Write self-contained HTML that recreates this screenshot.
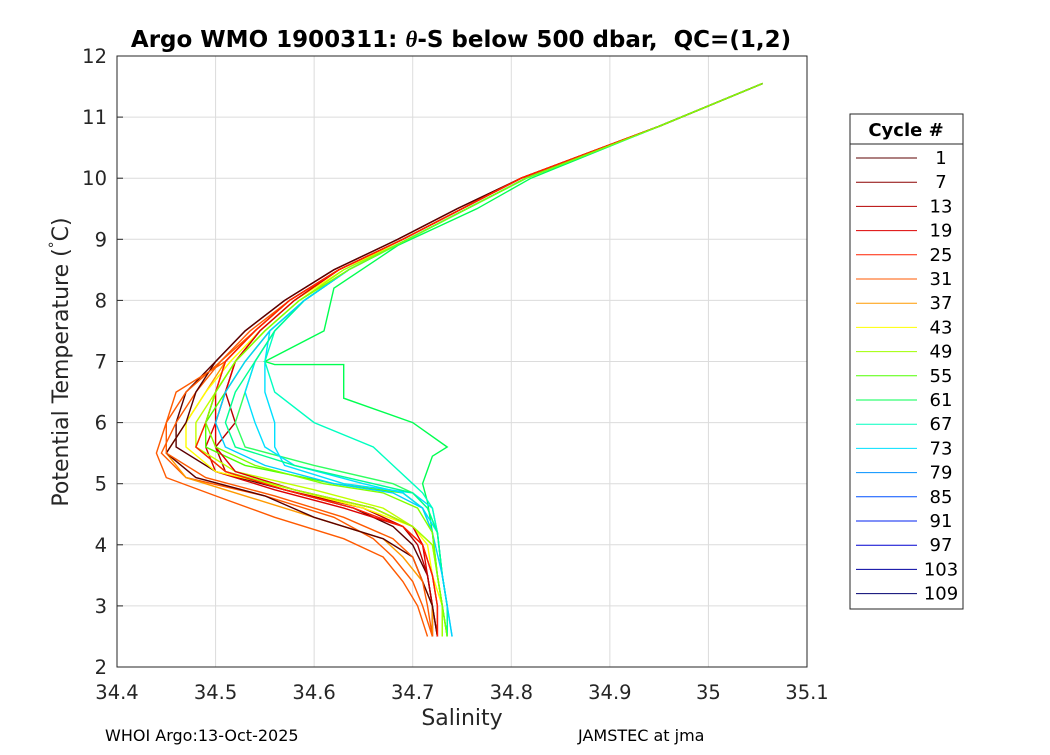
<!DOCTYPE html>
<html><head><meta charset="utf-8"><style>
body{margin:0;background:#fff;width:1050px;height:750px;overflow:hidden;font-family:"Liberation Sans","DejaVu Sans",sans-serif}
</style></head><body>
<svg id="chart" width="1050" height="750" xmlns="http://www.w3.org/2000/svg" font-family="DejaVu Sans, Liberation Sans, sans-serif">
<rect width="1050" height="750" fill="#fff"/>
<g id="grid"></g>
<g id="profiles"></g>
<rect x="117" y="56" width="690" height="611" fill="none" stroke="#262626" stroke-width="1"/>
<g id="ticks"></g>
<text x="461" y="47" text-anchor="middle" font-size="23" font-weight="bold" fill="#000">Argo WMO 1900311: <tspan font-style="italic" font-family="Liberation Serif, serif">θ</tspan>-S below 500 dbar,&#160; QC=(1,2)</text>
<text x="462" y="725" text-anchor="middle" font-size="22" fill="#262626">Salinity</text>
<text transform="translate(68,362) rotate(-90)" text-anchor="middle" font-size="22" fill="#262626">Potential Temperature (<tspan dy="-9" font-size="14">°</tspan><tspan dy="9">C)</tspan></text>
<text x="105" y="741" font-size="16" fill="#000">WHOI Argo:13-Oct-2025</text>
<text x="578" y="741" font-size="16" fill="#000">JAMSTEC at jma</text>
<g id="legend">
<rect x="850" y="114" width="113" height="495" fill="#fff" stroke="#262626"/>
<text x="906" y="136" text-anchor="middle" font-size="18" font-weight="bold">Cycle #</text>
<line x1="850" y1="144" x2="963" y2="144" stroke="#262626"/>
</g>
</svg>
<script>
const xTicks=[34.4,34.5,34.6,34.7,34.8,34.9,35,35.1];
const xTickLabels=["34.4","34.5","34.6","34.7","34.8","34.9","35","35.1"];
const yTicks=[2,3,4,5,6,7,8,9,10,11,12];
const legendCycles=[1,7,13,19,25,31,37,43,49,55,61,67,73,79,85,91,97,103,109];
const legendColors=["#5c0000","#8b0000","#b50000","#dd0000","#ff2000","#ff5a00","#ff9a00","#ffff00","#a0ff00","#50ff00","#00ff50","#00ffc0","#00e0ff","#0090ff","#0050ff","#0020f0","#0000d0","#0000a0","#000070"];
const stdT=[11.55,10.85,10.0,9.5,9.0,8.5,8.0,7.5,7.0,6.5,6.0,5.6,5.2,4.9,4.6,4.3,4.0,3.5,3.0,2.5];
const lowT=[11.55,10.85,10.0,9.5,9.0,8.5,8.0,7.5,7.0,6.5,6.0,5.5,5.1,4.8,4.45,4.1,3.8,3.4,3.0,2.5];
const highT=[11.55,10.85,10.0,9.5,9.0,8.5,8.0,7.5,7.0,6.5,6.0,5.6,5.3,5.0,4.85,4.6,4.2,3.5,3.0,2.5];
const outT=[11.55,10.85,10.0,9.5,8.9,8.2,7.5,7.0,6.95,6.95,6.4,6.0,5.6,5.45,5.0,4.7,4.2,3.5,3.0,2.5];
const profileColors=["#5c0000","#dd0000","#b50000","#ff5a00","#ff5a00","#ff9a00","#ffff00","#c0ff00","#50ff00","#00ff50","#30ff60","#00e0ff","#00e0ff","#00ffc0","#5c0000","#dd0000","#a0ff00","#ff5a00","#00ff90","#00d0ff","#ff2000","#80ff00"];
const profileTemp=[stdT,stdT,stdT,lowT,lowT,lowT,stdT,stdT,highT,outT,highT,highT,highT,highT,lowT,stdT,stdT,lowT,highT,highT,stdT,highT];
const profileSal=[
[35.055,34.95,34.81,34.745,34.685,34.62,34.57,34.53,34.5,34.47,34.46,34.46,34.5,34.57,34.64,34.68,34.7,34.715,34.72,34.725],
[35.055,34.95,34.81,34.75,34.69,34.625,34.575,34.54,34.51,34.5,34.5,34.49,34.5,34.56,34.63,34.69,34.71,34.715,34.72,34.72],
[35.055,34.95,34.81,34.75,34.69,34.625,34.58,34.545,34.52,34.51,34.52,34.5,34.51,34.57,34.65,34.69,34.705,34.715,34.72,34.72],
[35.055,34.95,34.81,34.75,34.69,34.625,34.575,34.54,34.505,34.48,34.46,34.445,34.47,34.55,34.62,34.66,34.68,34.7,34.71,34.72],
[35.055,34.95,34.81,34.75,34.69,34.625,34.575,34.535,34.505,34.47,34.45,34.44,34.45,34.5,34.56,34.63,34.67,34.69,34.705,34.715],
[35.055,34.95,34.81,34.75,34.69,34.625,34.575,34.54,34.51,34.49,34.47,34.45,34.47,34.53,34.6,34.67,34.69,34.71,34.72,34.72],
[35.055,34.95,34.81,34.75,34.69,34.63,34.58,34.545,34.515,34.49,34.47,34.47,34.5,34.58,34.65,34.7,34.715,34.72,34.73,34.73],
[35.055,34.95,34.815,34.755,34.695,34.635,34.585,34.55,34.52,34.5,34.48,34.48,34.52,34.6,34.67,34.7,34.72,34.725,34.73,34.73],
[35.055,34.95,34.815,34.755,34.695,34.635,34.59,34.555,34.53,34.51,34.49,34.49,34.53,34.62,34.69,34.71,34.72,34.725,34.73,34.735],
[35.055,34.95,34.82,34.765,34.685,34.62,34.61,34.55,34.56,34.63,34.63,34.7,34.735,34.72,34.71,34.715,34.72,34.725,34.73,34.735],
[35.055,34.95,34.815,34.755,34.695,34.635,34.59,34.56,34.54,34.53,34.52,34.53,34.6,34.68,34.7,34.715,34.725,34.73,34.735,34.735],
[35.055,34.95,34.815,34.755,34.695,34.635,34.59,34.56,34.54,34.53,34.54,34.55,34.58,34.65,34.69,34.71,34.725,34.73,34.735,34.735],
[35.055,34.95,34.815,34.755,34.695,34.635,34.59,34.555,34.55,34.55,34.56,34.56,34.57,34.63,34.7,34.72,34.725,34.73,34.735,34.74],
[35.055,34.95,34.815,34.755,34.695,34.635,34.59,34.56,34.55,34.56,34.6,34.66,34.68,34.7,34.71,34.72,34.725,34.73,34.735,34.735],
[35.055,34.95,34.81,34.745,34.685,34.62,34.57,34.53,34.5,34.48,34.47,34.45,34.48,34.55,34.6,34.67,34.7,34.71,34.72,34.725],
[35.055,34.95,34.81,34.75,34.69,34.625,34.58,34.545,34.52,34.51,34.5,34.5,34.52,34.58,34.66,34.7,34.71,34.72,34.725,34.725],
[35.055,34.95,34.815,34.755,34.695,34.63,34.585,34.55,34.52,34.5,34.49,34.48,34.51,34.58,34.66,34.7,34.72,34.725,34.73,34.73],
[35.055,34.95,34.81,34.75,34.69,34.625,34.575,34.54,34.51,34.46,34.45,34.45,34.49,34.56,34.63,34.68,34.7,34.71,34.715,34.72],
[35.055,34.95,34.815,34.755,34.695,34.635,34.59,34.56,34.54,34.52,34.51,34.52,34.58,34.66,34.7,34.715,34.725,34.73,34.735,34.735],
[35.055,34.95,34.815,34.755,34.695,34.635,34.59,34.555,34.53,34.51,34.5,34.51,34.55,34.62,34.68,34.71,34.72,34.73,34.735,34.74],
[35.055,34.95,34.81,34.75,34.69,34.625,34.575,34.54,34.51,34.5,34.49,34.48,34.51,34.57,34.64,34.69,34.71,34.72,34.725,34.725],
[35.055,34.95,34.815,34.755,34.695,34.635,34.585,34.55,34.52,34.5,34.49,34.5,34.54,34.61,34.67,34.705,34.72,34.725,34.73,34.735]
];
const NS="http://www.w3.org/2000/svg";
const X0=117,X1=807,Y0=667,Y1=56;
function xs(v){return X0+(v-34.4)/(35.1-34.4)*(X1-X0);}
function ys(v){return Y0-(v-2)/(12-2)*(Y0-Y1);}
function mk(tag,attrs,parent){const e=document.createElementNS(NS,tag);for(const k in attrs)e.setAttribute(k,attrs[k]);parent.appendChild(e);return e;}
const grid=document.getElementById('grid'),ticks=document.getElementById('ticks');
xTicks.forEach((t,i)=>{
 const g=mk('line',{x1:xs(t),x2:xs(t),y1:Y1,y2:Y0,stroke:'#dcdcdc'},grid);
 
 
 const tx=mk('text',{x:xs(t),y:699,'text-anchor':'middle','font-size':19.5,fill:'#262626'},ticks);
 tx.textContent=xTickLabels[i];
 
 
});
yTicks.forEach(t=>{
 const g=mk('line',{x1:X0,x2:X1,y1:ys(t),y2:ys(t),stroke:'#dcdcdc'},grid);
 
 
 mk('line',{x1:X0,x2:X0+6,y1:ys(t),y2:ys(t),stroke:'#262626'},ticks);
 const tx=mk('text',{x:107,y:ys(t)+7,'text-anchor':'end','font-size':19.5,fill:'#262626'},ticks);
 tx.textContent=String(t);
 
 
});
const prof=document.getElementById('profiles');
profileSal.forEach((s,i)=>{
 const pts=s.map((v,j)=>xs(v).toFixed(1)+','+ys(profileTemp[i][j]).toFixed(1)).join(' ');
 const p=mk('polyline',{points:pts,fill:'none',stroke:profileColors[i],'stroke-width':1.4},prof);
 
 
});
const leg=document.getElementById('legend');
legendCycles.forEach((c,i)=>{
 const y=158+i*24.2;
 const l=mk('line',{x1:856,x2:917,y1:y,y2:y,stroke:legendColors[i]},leg);
 
 
 const t=mk('text',{x:941,y:y+6,'text-anchor':'middle','font-size':18,fill:'#000'},leg);
 t.textContent=String(c);
 
 
});
</script>
</body></html>
